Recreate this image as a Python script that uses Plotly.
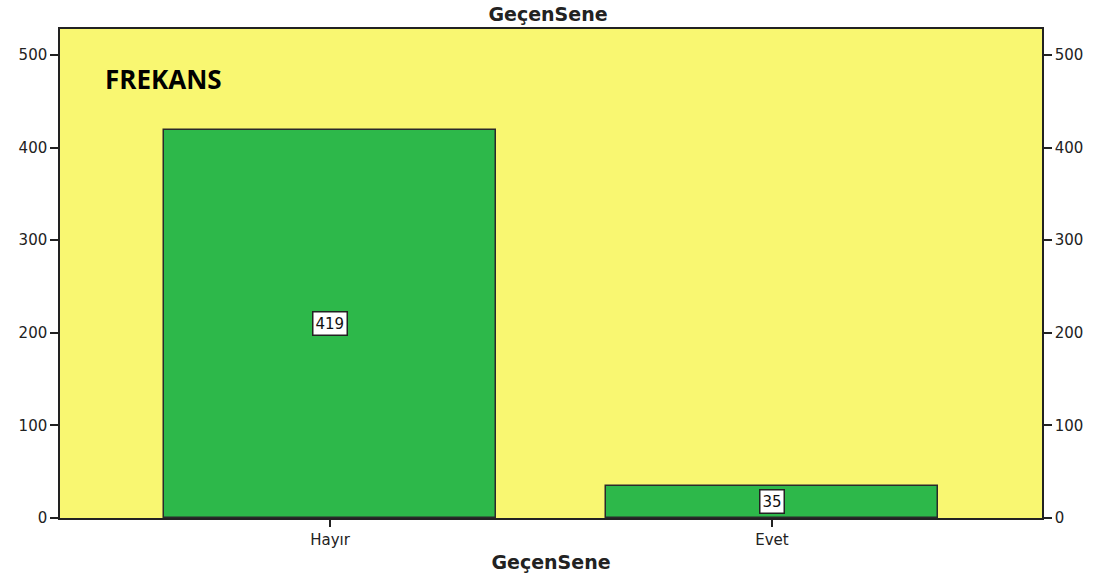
import plotly.graph_objects as go

# data
categories = ["Hayır", "Evet"]
counts = [419, 35]
y_ticks = [0, 100, 200, 300, 400, 500]

BAR_COLOR = "#2DB84A"
PLOT_BG = "#F9F771"
AXIS_FONT = dict(family="DejaVu Sans", size=15, color="#222")
TITLE_FONT = dict(family="DejaVu Sans", size=19, color="#222")

fig = go.Figure()
fig.add_trace(go.Bar(
    x=categories,
    y=counts,
    width=0.75,
    marker=dict(color=BAR_COLOR, line=dict(color="#2a2a2a", width=1.5)),
    hoverinfo="skip",
    showlegend=False,
))
# invisible trace so the right axis gets drawn
fig.add_trace(go.Scatter(
    x=categories, y=counts, yaxis="y2", mode="markers",
    marker=dict(opacity=0), hoverinfo="skip", showlegend=False,
))

# value boxes in the middle of each bar
for cat, val in zip(categories, counts):
    fig.add_annotation(
        x=cat, y=val / 2, text=str(val), showarrow=False,
        font=dict(family="DejaVu Sans", size=15, color="#111"),
        bgcolor="white", bordercolor="#222", borderwidth=1.5, borderpad=2,
    )

fig.add_annotation(
    xref="paper", yref="paper", x=0.044, y=0.898, xanchor="left", yanchor="middle",
    text="<b>FREKANS</b>", showarrow=False,
    font=dict(family="Open Sans", size=26, color="black"),
)

yaxis_common = dict(
    range=[0, 528], tickvals=y_ticks, ticks="outside", ticklen=8,
    tickcolor="#222", tickwidth=1.5, showgrid=False, zeroline=False,
    showline=True, linecolor="#222", linewidth=1.5, tickfont=AXIS_FONT,
)

fig.update_layout(
    width=1096, height=581,
    paper_bgcolor="white", plot_bgcolor=PLOT_BG,
    margin=dict(l=60, r=54, t=29, b=63),
    title=dict(text="<b>GeçenSene</b>", x=0.5, xanchor="center",
               yref="container", y=0.975, yanchor="middle", pad=dict(t=0, b=0),
               font=TITLE_FONT),
    xaxis=dict(
        range=[-0.611, 1.611], ticks="outside", ticklen=7, tickcolor="#222",
        tickwidth=1.5, showline=True, linecolor="#222", linewidth=1.5,
        mirror=True, tickfont=AXIS_FONT, showgrid=False,
        title=dict(text="<b>GeçenSene</b>", standoff=8, font=TITLE_FONT),
    ),
    yaxis=dict(**yaxis_common),
    yaxis2=dict(**yaxis_common, overlaying="y", side="right", matches="y"),
    bargap=0,
)

# drop the default page margin so the figure fills the window exactly
fig.write_html("out.html", config={"displayModeBar": False},
               post_script="document.body.style.margin='0';")
